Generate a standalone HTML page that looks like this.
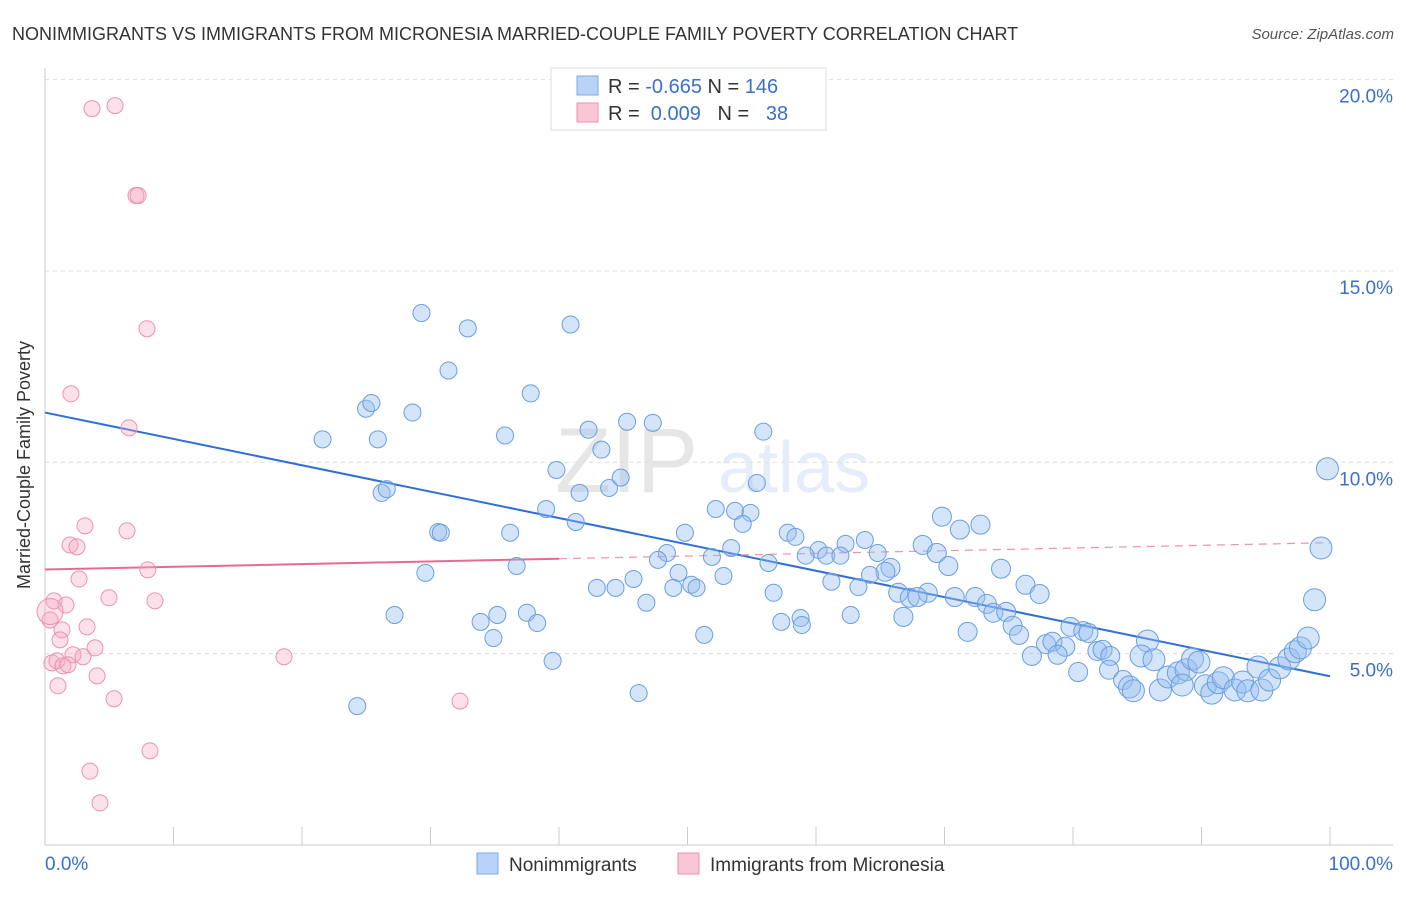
<!DOCTYPE html>
<html><head><meta charset="utf-8"><style>
body{margin:0;background:#fff;font-family:"Liberation Sans",sans-serif;}
svg text{font-family:"Liberation Sans",sans-serif;}
</style></head><body>
<svg id="chart" width="1406" height="892" viewBox="0 0 1406 892">
<text x="12" y="40" font-size="18" fill="#333">NONIMMIGRANTS VS IMMIGRANTS FROM MICRONESIA MARRIED-COUPLE FAMILY POVERTY CORRELATION CHART</text>
<text x="1394" y="39" font-size="15" fill="#555" font-style="italic" text-anchor="end">Source: ZipAtlas.com</text>
<g opacity="0.13"><text x="555" y="492" font-size="92" font-family="Liberation Serif" fill="#444">ZIP</text><text x="718" y="492" font-size="72" fill="#3a78d6">atlas</text></g>
<g id="grid"></g>
<g id="axes"></g>
<g id="trends"></g>
<g id="pts"></g>
<text x="20" y="455" font-size="18" fill="#333" transform="rotate(-90 30 455)" text-anchor="middle">Married-Couple Family Poverty</text>
<g>
<rect x="551" y="68" width="275" height="62" fill="#fff" stroke="#ddd"/>
<rect x="577" y="76" width="21" height="19" fill="#b8d3f5" stroke="#7eaae6"/>
<rect x="577" y="103" width="21" height="19" fill="#f9c6d5" stroke="#eb93ad"/>
<text x="608" y="93" font-size="20" fill="#333">R = <tspan fill="#3a70c8">-0.665</tspan>   N = <tspan fill="#3a70c8">146</tspan></text>
<text x="608" y="120" font-size="20" fill="#333" xml:space="preserve">R =  <tspan fill="#3a70c8">0.009</tspan>   N =   <tspan fill="#3a70c8">38</tspan></text>
</g>
<g>
<rect x="477" y="853" width="21" height="21" fill="#b8d3f5" stroke="#7eaae6"/>
<text x="509" y="871" font-size="19" fill="#333">Nonimmigrants</text>
<rect x="678" y="853" width="21" height="21" fill="#f9c6d5" stroke="#eb93ad"/>
<text x="710" y="871" font-size="19" fill="#333">Immigrants from Micronesia</text>
</g>
</svg>
<script>
const yTicks=[5,10,15,20];
const blueX=[29.3,32.9,40.9,31.4,37.8,24.98,25.4,28.6,21.6,25.9,35.8,42.3,45.3,47.3,43.3,55.9,39.8,26.2,26.6,41.6,43.9,44.8,55.4,39.0,41.3,52.2,53.7,54.9,54.3,30.6,30.8,36.2,49.8,57.8,58.4,69.8,71.2,72.8,63.8,62.3,68.3,69.4,53.4,48.4,51.9,60.2,60.8,59.2,61.9,64.8,47.7,56.3,36.7,70.3,74.4,29.6,65.8,65.4,64.2,49.3,52.8,45.8,61.2,63.3,50.3,50.7,48.9,42.95,44.4,56.7,66.4,68.7,67.3,67.9,70.8,72.4,76.3,77.4,73.3,73.8,74.8,46.8,27.2,35.2,37.5,33.9,38.3,57.3,58.8,62.7,66.8,34.9,51.3,58.9,71.8,75.3,75.8,79.8,80.8,81.2,77.9,78.4,79.4,76.8,78.8,81.9,82.3,82.9,85.8,85.3,86.3,80.4,82.8,83.9,84.4,84.7,86.8,87.4,88.2,88.8,89.3,89.8,88.5,90.3,90.8,91.3,91.7,92.6,93.2,93.6,94.4,94.7,95.3,96.1,96.8,97.3,97.7,98.3,98.8,99.3,99.8,39.5,46.2,24.3];
const blueY=[13.9,13.5,13.6,12.4,11.8,11.4,11.55,11.3,10.6,10.6,10.7,10.85,11.06,11.03,10.33,10.8,9.8,9.2,9.3,9.2,9.33,9.6,9.46,8.78,8.44,8.78,8.73,8.68,8.39,8.18,8.16,8.16,8.16,8.16,8.05,8.58,8.24,8.37,7.97,7.87,7.84,7.63,7.76,7.63,7.53,7.71,7.56,7.56,7.56,7.63,7.45,7.37,7.29,7.29,7.22,7.11,7.24,7.14,7.06,7.11,7.03,6.95,6.88,6.74,6.80,6.72,6.72,6.72,6.72,6.59,6.59,6.59,6.46,6.48,6.48,6.48,6.80,6.56,6.30,6.07,6.09,6.33,6.01,6.01,6.07,5.83,5.80,5.83,5.93,6.01,5.96,5.41,5.49,5.75,5.57,5.73,5.49,5.70,5.59,5.54,5.25,5.31,5.18,4.94,4.97,5.07,5.10,4.94,5.33,4.94,4.84,4.52,4.58,4.31,4.13,4.03,4.05,4.39,4.50,4.58,4.86,4.78,4.18,4.16,3.97,4.24,4.37,4.05,4.26,4.03,4.65,4.05,4.31,4.63,4.86,5.05,5.15,5.41,6.41,7.76,9.83,4.81,3.97,3.63];
const pinkX=[3.66,5.45,7.08,7.24,7.94,2.02,6.54,3.11,6.38,1.95,2.49,2.65,8.0,4.98,8.56,0.7,1.63,0.39,3.27,1.32,1.17,3.89,2.18,2.96,0.54,0.93,1.4,1.79,4.05,1.01,5.37,18.6,32.3,8.17,3.5,4.28,0.39];
const pinkY=[19.24,19.32,16.97,16.97,13.49,11.79,10.90,8.34,8.21,7.84,7.79,6.95,7.19,6.46,6.38,6.38,6.27,5.88,5.70,5.62,5.36,5.15,4.97,4.92,4.76,4.81,4.68,4.71,4.42,4.16,3.82,4.92,3.76,2.46,1.93,1.10,6.1];
const blueTrend=[11.3,4.41];
const pinkTrend=[7.2,7.9];
const NS="http://www.w3.org/2000/svg";
const X=v=>45+v*12.85, Y=v=>845-v*38.27;
function mk(tag,attrs,parent){const e=document.createElementNS(NS,tag);for(const k in attrs)e.setAttribute(k,attrs[k]);parent.appendChild(e);return e;}
const grid=document.getElementById('grid'),axes=document.getElementById('axes');
yTicks.forEach(t=>{
 const l=mk('line',{x1:45,x2:1393,y1:Y(t),y2:Y(t),stroke:'#ddd','stroke-dasharray':'4,4'},grid);
 
 
 const tx=mk('text',{x:1393,y:Y(t)+23,'font-size':19,fill:'#3a70c8','text-anchor':'end'},axes);
 tx.textContent=t.toFixed(1)+'%';
 
 
});
mk('line',{x1:45,x2:45,y1:68,y2:845,stroke:'#ccc'},axes);
mk('line',{x1:45,x2:1393,y1:845,y2:845,stroke:'#ccc'},axes);
for(let i=0;i<=10;i++){const t=mk('line',{x1:X(i*10),x2:X(i*10),y1:827,y2:845,stroke:'#ccc'},axes);}
[[0,'0.0%','start',45],[100,'100.0%','end',1393]].forEach(a=>{const t=mk('text',{x:a[3],y:870,'font-size':19,fill:'#3a70c8','text-anchor':a[2]},axes);t.textContent=a[1];});
const pts=document.getElementById('pts');
pinkX.forEach((x,i)=>{const c=mk('circle',{cx:X(x),cy:Y(pinkY[i]),r:i==pinkX.length-1?13:8,fill:'rgba(246,170,195,0.35)',stroke:'#eb93ad','stroke-width':1},pts);
 
 });
blueX.forEach((x,i)=>{const c=mk('circle',{cx:X(x),cy:Y(blueY[i]),r:x>84?11:(x>65?9.5:8.5),fill:'rgba(150,190,240,0.4)',stroke:'#6a9ee0','stroke-width':1},pts);
 
 });
const tr=document.getElementById('trends');
const bl=mk('line',{x1:X(0),y1:Y(blueTrend[0]),x2:X(100),y2:Y(blueTrend[1]),stroke:'#2f6fd6','stroke-width':2},tr);

const pAt=v=>pinkTrend[0]+(pinkTrend[1]-pinkTrend[0])*v/100;
const p1=mk('line',{x1:X(0),y1:Y(pAt(0)),x2:X(40),y2:Y(pAt(40)),stroke:'#e86a93','stroke-width':2},tr);

const p2=mk('line',{x1:X(40),y1:Y(pAt(40)),x2:X(100),y2:Y(pAt(100)),stroke:'#eb93ad','stroke-width':1.2,'stroke-dasharray':'8,6'},tr);

</script>
</body></html>
